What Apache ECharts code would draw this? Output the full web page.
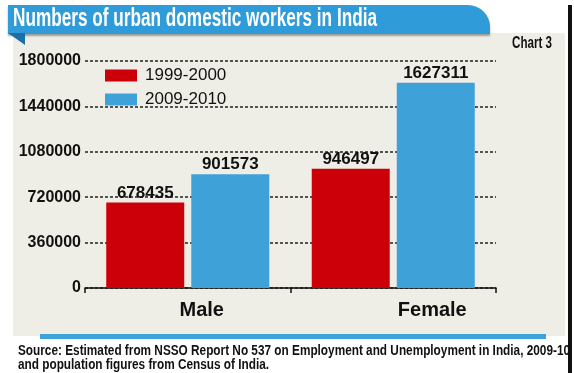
<!DOCTYPE html>
<html><head><meta charset="utf-8">
<script src="https://cdn.jsdelivr.net/npm/echarts@6/dist/echarts.min.js"></script>
<style>html,body{margin:0;padding:0;background:#fff}#c{width:574px;height:373px}</style>
</head><body><div id="c"></div>
<script>
const categories = ['Male', 'Female'];
const seriesNames = ['1999-2000', '2009-2010'];
const values1999 = [678435, 946497];
const values2009 = [901573, 1627311];
const yTicks = [0, 360000, 720000, 1080000, 1440000, 1800000];
const titleText = 'Numbers of urban domestic workers in India';
const chartTag = 'Chart 3';
const sourceLines = ['Source: Estimated from NSSO Report No 537 on Employment and Unemployment in India, 2009-10', 'and population figures from Census of India.'];

const FONT = '"Liberation Sans", Arial, sans-serif';
const RED = '#cc0008', BLUE = '#3ea2d9';

const ctx = document.createElement('canvas').getContext('2d');
function fitScale(text, font, targetW) {
  ctx.font = font;
  return targetW / ctx.measureText(text).width;
}
const titleFont = 'bold 26px ' + FONT;
const srcFont = 'bold 14px ' + FONT;
const tagFont = 'bold 16px ' + FONT;

const chart = echarts.init(document.getElementById('c'), null, {renderer: 'canvas'});
const labelOpt = {show: true, position: 'top', distance: 1, color: '#111', fontFamily: FONT, fontWeight: 'bold', fontSize: 17};
chart.setOption({
  backgroundColor: '#ffffff',
  animation: false,
  graphic: [
    {type: 'rect', shape: {x: 13, y: 33, width: 552, height: 303}, style: {fill: '#efeee6'}, z: -10},
    {type: 'rect', shape: {x: 568, y: 5, width: 4, height: 368}, style: {fill: '#111'}, z: -5},
    {type: 'rect', shape: {x: 8, y: 5, width: 482, height: 29, r: [0, 22, 0, 0]}, style: {fill: '#2f9bd8', shadowColor: 'rgba(0,0,0,0.35)', shadowOffsetY: 2, shadowBlur: 2}, z: -4},
    {type: 'polygon', shape: {points: [[8, 33], [25, 33], [25, 45]]}, style: {fill: '#1b6ea6'}, z: -4},
    {type: 'rect', shape: {x: 40, y: 334, width: 506, height: 5}, style: {fill: BLUE}, z: -4},
    {type: 'text', x: 13, y: 6, scaleX: fitScale(titleText, titleFont, 364), style: {text: titleText, fill: '#fff', font: titleFont}, z: 5},
    {type: 'text', x: 512, y: 36, scaleX: fitScale(chartTag, tagFont, 40), style: {text: chartTag, fill: '#111', font: tagFont}, z: 5},
    {type: 'text', x: 18, y: 344, scaleX: fitScale(sourceLines[0], srcFont, 552), style: {text: sourceLines[0], fill: '#111', font: srcFont}, z: 5},
    {type: 'text', x: 18, y: 358, scaleX: fitScale(sourceLines[0], srcFont, 552), style: {text: sourceLines[1], fill: '#111', font: srcFont}, z: 5}
  ],
  legend: {
    data: seriesNames, orient: 'vertical', left: 100, top: 62, itemWidth: 32, itemHeight: 12, itemGap: 7,
    icon: 'rect', textStyle: {fontFamily: FONT, fontSize: 17, color: '#111', padding: [0, 0, 0, 3]}
  },
  grid: {left: 85, right: 78, top: 61, bottom: 85, containLabel: false, outerBoundsMode: 'none'},
  xAxis: {
    type: 'category', data: categories,
    axisLine: {lineStyle: {color: '#111', width: 1.5}},
    axisTick: {show: true, length: 5, lineStyle: {color: '#111', width: 1.5}},
    axisLabel: {
      margin: 12,
      formatter: v => v === 'Male' ? '{m|' + v + '}' : '{f|' + v + '}',
      rich: {
        m: {fontFamily: FONT, fontWeight: 'bold', fontSize: 20, color: '#111', padding: [0, 0, 0, 28]},
        f: {fontFamily: FONT, fontWeight: 'bold', fontSize: 20, color: '#111', padding: [0, 0, 0, 78]}
      }
    }
  },
  yAxis: {
    type: 'value', min: yTicks[0], max: yTicks[yTicks.length - 1], interval: yTicks[1] - yTicks[0],
    axisLine: {show: false}, axisTick: {show: false},
    axisLabel: {margin: 4, fontFamily: FONT, fontWeight: 'bold', fontSize: 16, color: '#111', formatter: v => String(v)},
    splitLine: {lineStyle: {type: [3, 2], color: '#222', width: 1.5}}
  },
  series: [
    {name: seriesNames[0], type: 'bar', data: values1999, barWidth: 78, barGap: '9%', itemStyle: {color: RED}, label: labelOpt},
    {name: seriesNames[1], type: 'bar', data: values2009, barWidth: 78, itemStyle: {color: BLUE}, label: labelOpt}
  ]
});
</script></body></html>
